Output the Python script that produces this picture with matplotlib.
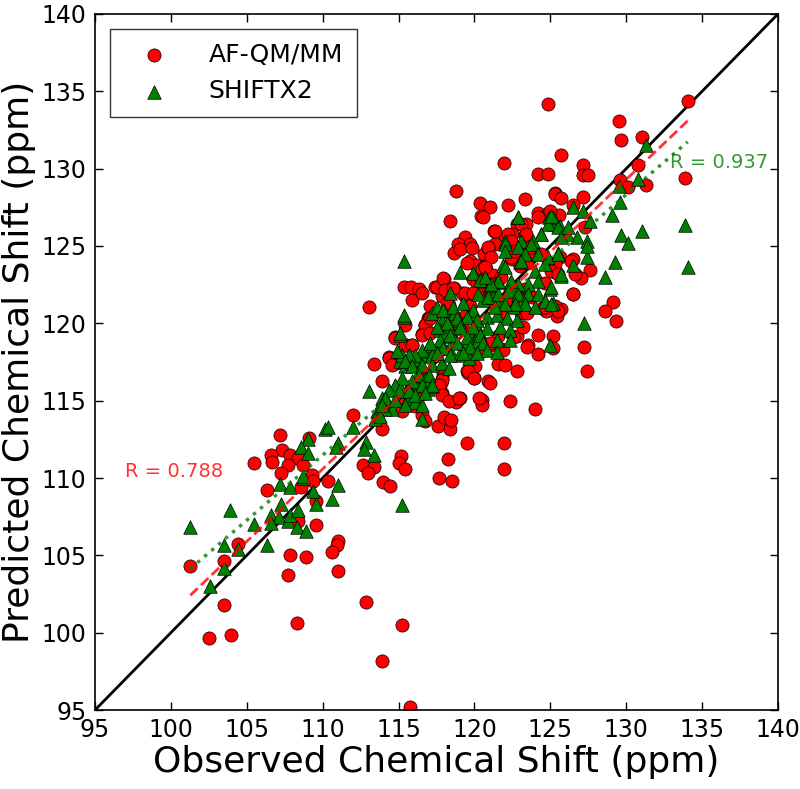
import numpy as np
import matplotlib
matplotlib.use("Agg")
import matplotlib.pyplot as plt

# ---------------- data (ppm) ----------------
afqm_x = [124.86,134.08,129.54,129.67,131.07,121.96,124.16,124.86,125.67,127.17,127.13,127.48,130.77,133.88,129.58,130.15,131.3,118.76,125.3,125.32,125.72,127.17,123.33,120.38,121.0,122.19,126.51,120.43,118.41,124.16,124.86,125.59,124.97,122.8,123.4,127.26,121.3,122.45,123.33,119.37,122.0,118.93,119.72,121.35,123.33,
          126.51,127.61,127.04,125.63,125.15,125.28,126.51,129.1,128.62,129.32,125.67,125.41,125.15,125.15,127.21,127.43,
          113.05,112.0,113.36,113.89,115.24,112.65,113.36,112.96,115.16,115.03,115.42,117.62,118.41,118.01,118.45,119.5,121.92,118.28,121.96,120.51,120.47,118.8,119.07,122.36,123.99,120.87,121.0,119.5,119.98,117.84,117.79,122.8,121.52,122.01,124.2,123.54,124.16,122.8,124.69,125.3,123.1,123.28,114.35,114.83,115.51,115.9,114.76,115.42,116.52,116.74,116.96,117.04,115.9,115.33,115.82,116.35,116.57,117.4,118.01,118.63,117.84,118.32,118.5,118.67,119.03,119.82,120.65,120.91,119.72,120.08,120.47,120.69,121.0,121.3,119.9,120.16,120.34,120.91,121.13,121.04,119.37,119.2,122.45,122.98,123.46,122.76,123.81,122.22,122.88,124.64,123.76,121.57,121.09,121.75,120.03,119.59,117.93,117.88,116.63,116.35,116.4,116.74,115.82,116.52,116.74,115.73,116.21,116.96,119.68,119.37,119.15,121.35,121.79,123.33,123.1,124.43,
          107.21,109.1,107.34,106.59,107.87,108.4,105.49,106.64,107.69,108.7,107.25,109.27,106.33,108.6,109.36,109.54,108.35,109.58,104.4,103.52,101.28,107.86,108.87,107.69,103.48,108.31,102.51,103.96,110.33,113.97,114.45,117.66,118.5,110.99,110.95,110.59,110.99,112.87,115.24,113.89,115.76,
          114.35,114.78,114.56,117.0,116.76,116.54,115.44,115.88,119.6,119.95,117.86,117.64,117.86,118.3,118.96,120.27,115.22,115.44,116.1,113.9,
          117.5,117.94,118.06,118.6,119.37,119.92,119.48,120.69,121.24,121.46,118.17,117.07,117.07,118.39,123.44,123.21,122.55,123.44,121.9,121.02,120.36,119.92,
          120.56,121.33,122.2,122.42,123.08,123.41,124.18,120.89,121.11,120.67,122.42,122.64,123.74,124.4,125.28,125.06,125.5,126.38,126.6,126.49,120.45,121.11,121.77,124.62,125.5]
afqm_y = [134.18,134.36,133.1,131.86,132.03,130.39,129.66,129.66,130.87,130.26,129.57,129.57,130.26,129.4,129.27,128.8,128.93,128.58,128.4,128.36,128.1,128.19,128.04,127.77,127.55,127.64,127.64,126.96,126.64,127.12,127.12,127.03,127.29,126.43,126.43,126.21,125.95,125.78,125.73,125.56,125.43,125.13,125.13,125.13,125.13,
          124.18,123.45,122.93,124.27,123.92,123.32,121.88,121.38,120.82,120.13,120.91,120.48,119.19,118.41,118.46,116.9,
          121.04,114.06,117.38,113.19,114.36,110.87,110.74,110.35,111.43,110.96,110.61,113.37,113.19,113.97,113.76,112.25,112.25,111.21,110.61,115.05,114.7,114.92,115.18,114.96,114.43,116.3,116.17,116.9,116.47,115.52,116.17,116.9,117.38,117.33,118.0,118.58,119.23,119.19,120.78,121.12,120.69,120.65,117.81,117.42,118.58,118.62,119.14,119.92,119.31,119.88,120.35,121.09,121.51,122.37,122.37,122.24,121.98,122.33,122.89,122.29,121.77,121.21,120.48,124.57,124.83,124.87,124.49,124.87,124.05,123.79,123.54,123.71,123.15,123.02,122.85,122.63,122.07,122.29,121.98,122.5,121.77,121.98,124.18,123.71,123.89,124.87,124.66,121.56,121.21,122.63,121.73,119.19,118.62,118.33,117.25,116.82,116.81,116.42,116.73,116.38,115.74,115.52,115.82,114.1,113.71,115.52,115.09,116.17,121.12,120.48,119.94,121.34,120.48,122.2,121.64,121.0,
          112.8,112.6,111.82,111.51,111.47,111.3,111.0,111.04,110.87,110.87,110.35,110.18,109.23,109.4,109.83,108.5,107.25,106.95,105.74,104.62,104.32,105.01,104.88,103.76,101.82,100.61,99.66,99.84,109.83,109.75,109.49,110.0,109.83,105.95,105.69,105.22,104.01,101.99,100.52,98.2,95.18,
          117.76,119.06,117.33,120.35,119.92,119.27,118.62,118.58,116.9,116.47,116.36,116.04,115.39,114.96,115.18,115.18,115.18,114.85,114.64,116.26,
          122.37,122.91,122.16,122.27,121.95,121.95,123.89,123.67,123.13,122.59,121.3,120.33,119.36,119.9,120.65,119.79,119.14,118.49,118.28,118.71,118.17,118.07,
          126.86,126.0,125.78,125.35,126.43,125.78,126.86,124.92,124.27,123.63,124.27,124.7,124.92,124.49,123.84,123.41,123.19,124.05,123.19,121.9,122.76,122.55,122.98,121.04,120.82]

shiftx2_x = [122.9,124.9,124.4,125.25,122.0,123.1,123.85,131.3,130.77,129.54,129.58,129.06,126.51,127.61,133.88,129.63,131.07,130.15,125.15,125.63,127.17,126.73,127.39,126.07,134.06,129.28,127.43,126.51,128.62,125.67,127.43,124.97,125.15,127.21,124.97,125.5,
             101.28,103.91,103.52,104.4,103.48,102.55,105.45,106.33,107.21,107.86,106.59,107.12,106.59,107.25,107.69,107.83,108.4,108.31,108.88,109.58,109.36,108.7,109.05,108.57,109.05,110.15,108.7,110.99,110.59,115.24,
             115.38,115.33,115.11,113.05,110.33,112.0,110.99,110.9,112.87,112.7,113.36,116.52,113.89,114.32,114.55,114.1,113.58,113.45,113.8,
             114.76,115.2,115.64,116.08,116.52,116.96,117.18,116.74,116.08,115.64,115.2,115.42,115.86,116.3,116.74,117.18,117.62,115.11,
             115.33,115.11,117.2,117.97,118.63,117.86,118.3,118.96,119.62,120.06,117.75,117.97,118.52,119.18,119.84,120.28,118.74,119.4,120.06,118.3,118.96,119.62,117.64,116.98,116.54,117.2,116.1,115.66,115.22,114.9,115.44,115.88,116.54,117.2,117.86,118.3,116.98,116.32,115.88,116.54,117.2,115.22,114.79,114.35,115.01,115.66,116.1,116.76,114.13,114.79,115.44,113.91,
             119.05,119.92,121.9,123.0,120.36,121.02,121.46,122.34,122.78,123.44,118.39,117.51,117.95,118.61,119.27,119.92,120.58,121.24,121.9,122.56,123.22,119.49,120.14,120.8,121.46,122.12,122.78,118.83,118.17,117.51,119.05,119.92,120.8,121.68,122.34,120.36,119.49,118.39,117.73,117.07,117.95,118.83,119.71,120.58,121.46,122.34,119.27,118.39,120.14,120.8,121.46,117.51,
             122.87,124.84,125.5,125.06,124.4,125.72,126.16,121.99,121.99,122.87,123.74,123.3,123.08,124.18,124.84,125.5,124.62,123.96,125.72,121.99,125.06,124.18,123.52,122.87,122.43,121.55,121.11,120.67,120.23,120.89,121.55,122.21,122.87,123.52,124.18,123.3,122.65,121.99,121.33,123.96,124.62,125.06]
shiftx2_y = [126.86,126.86,125.78,126.43,125.3,125.3,125.3,131.56,129.36,128.88,127.83,126.99,127.55,126.6,126.38,125.69,125.95,125.17,126.86,126.3,127.29,125.56,125.35,125.78,123.67,123.97,124.27,123.75,123.02,123.06,125.0,122.22,121.34,120.05,118.6,124.57,
             106.82,107.94,105.69,105.44,104.15,103.03,107.03,105.65,109.62,109.44,107.63,107.46,107.12,108.33,107.25,107.63,107.94,106.86,106.6,108.33,109.15,110.0,112.55,112.0,111.6,113.19,110.13,109.53,108.63,108.24,
             124.01,120.43,119.27,115.61,113.28,113.28,112.29,111.99,112.33,111.86,111.47,113.8,115.18,114.87,114.45,114.45,114.36,113.84,114.01,
             115.95,115.61,115.18,114.92,114.74,115.74,115.95,116.38,116.17,115.87,117.89,117.25,117.46,117.68,117.89,118.2,118.54,117.55,
             120.56,119.38,120.67,120.78,120.67,120.13,119.81,120.24,120.56,120.46,119.6,119.16,119.38,119.7,119.27,119.49,118.84,118.63,118.84,118.41,117.98,117.76,118.62,118.62,118.3,117.98,117.98,117.98,117.98,118.19,117.55,117.22,117.33,117.33,117.44,117.12,116.69,116.69,116.26,116.04,116.04,116.47,116.04,115.72,115.61,115.61,115.39,115.5,115.18,115.07,114.75,114.75,
             123.35,123.24,123.78,123.99,122.81,122.48,122.7,122.59,122.16,121.95,121.95,121.08,120.87,121.08,121.3,120.87,121.51,121.73,121.3,121.08,121.51,120.44,120.22,120.44,120.54,120.33,120.22,120.33,120.01,119.79,119.79,119.79,119.68,119.79,119.58,119.25,119.14,119.25,118.93,118.71,118.39,118.71,118.5,118.71,118.93,118.93,118.07,117.96,118.07,118.28,118.17,118.07,
             126.86,126.43,126.21,126.96,125.78,125.56,126.21,125.13,124.7,124.92,125.13,124.49,124.06,124.49,124.27,124.49,123.84,123.41,123.19,123.62,122.33,122.76,122.55,122.55,122.76,122.76,122.55,122.98,121.9,121.68,121.9,122.11,121.9,121.9,121.9,121.25,121.25,121.25,121.04,121.04,121.47,121.25]

# linear fits: (slope, intercept, x range)
afqm_fit = (0.936, 7.62)
shiftx2_fit = (0.842, 18.86)
fit_xrange = [101.28, 134.05]
r_afqm = 0.788
r_shiftx2 = 0.937
axis_limits = [95, 140]
tick_values = [95, 100, 105, 110, 115, 120, 125, 130, 135, 140]

# ---------------- plot ----------------
fig = plt.figure(figsize=(8.0, 7.89), dpi=100)
ax = fig.add_axes([0.11875, 0.1001, 0.85375, 0.8822])

ax.plot(axis_limits, axis_limits, color='black', lw=2, zorder=1)

ax.scatter(afqm_x, afqm_y, s=90, marker='o', facecolor='red', edgecolor='black',
           linewidths=0.5, label='AF-QM/MM', zorder=2)
ax.scatter(shiftx2_x, shiftx2_y, s=95, marker='^', facecolor='green', edgecolor='black',
           linewidths=0.5, label='SHIFTX2', zorder=3)

fx = np.array(fit_xrange)
ax.plot(fx, afqm_fit[0] * fx + afqm_fit[1], color='red', ls='--', lw=2, alpha=0.8, zorder=4)
ax.plot(fx, shiftx2_fit[0] * fx + shiftx2_fit[1], color='green', ls=':', lw=2.5, alpha=0.8, zorder=4)

ax.text(97.0, 110.4, f"R = {r_afqm:.3f}", color='red', alpha=0.8, fontsize=14,
        ha='left', va='center')
ax.text(132.9, 130.4, f"R = {r_shiftx2:.3f}", color='green', alpha=0.8, fontsize=14,
        ha='left', va='center')

ax.set_xlim(axis_limits)
ax.set_ylim(axis_limits)
ax.set_xticks(tick_values)
ax.set_yticks(tick_values)
ax.tick_params(direction='in', top=True, right=True, length=6, width=1, labelsize=17, pad=6)
for sp in ax.spines.values():
    sp.set_linewidth(1.2)

ax.set_xlabel('Observed Chemical Shift (ppm)', fontsize=26, labelpad=2)
ax.set_ylabel('Predicted Chemical Shift (ppm)', fontsize=26, labelpad=4)

leg = ax.legend(loc='upper left', fontsize=18, scatterpoints=1, frameon=True, fancybox=False,
                borderpad=0.55, handletextpad=1.0, labelspacing=0.5, borderaxespad=0.6,
                handlelength=2.4)
leg.get_frame().set_edgecolor('black')
leg.get_frame().set_linewidth(1.0)

fig.savefig('out.png', dpi=100)
